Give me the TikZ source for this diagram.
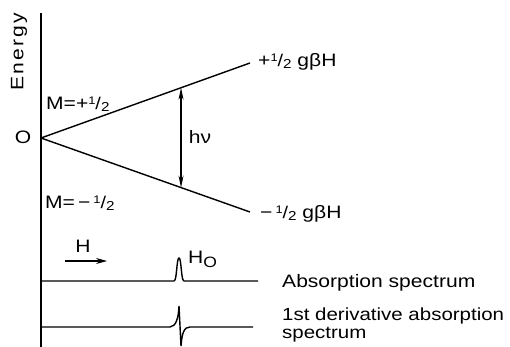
\documentclass[tikz,border=0pt]{standalone}
\usepackage{fontspec}
\setmainfont{Liberation Sans}[FakeStretch=1.17]
\usetikzlibrary{arrows.meta,calc}
\newcommand\myhalf{\raisebox{5pt}{\fontsize{11}{11}\selectfont 1}{\fontsize{17}{17}\selectfont/}\raisebox{-2pt}{\fontsize{13}{13}\selectfont 2}}
\begin{document}
\begin{tikzpicture}[x=1pt,y=-1pt,
  lbl/.style={inner sep=0pt,font=\fontsize{18}{18}\selectfont},
  ln/.style={line width=1.4pt},
  thin/.style={line width=1.1pt}]
\useasboundingbox (0,0) rectangle (510,347);
% axis
\coordinate (top) at (41,13);
\coordinate (bot) at (41,347);
\draw[thin] (top) -- (bot);
% levels
\coordinate (O) at (41,138);
\coordinate (U) at (250,63);
\coordinate (L) at (250,212);
\draw[ln] (O) -- (U);
\draw[ln] (O) -- (L);
\coordinate (a1) at ($(O)!0.67!(U)$);
\coordinate (a2) at ($(O)!0.67!(L)$);
\draw[thin,{Stealth[length=12pt,width=5pt]}-{Stealth[length=12pt,width=5pt]}] (a1) -- (a2);
% labels
\node[lbl,rotate=90,font=\fontsize{18}{18}\selectfont\addfontfeature{LetterSpace=12}] (energy) at (19,52) {Energy};
\node[lbl] (olab) at (23,137) {O};
\node[lbl,anchor=base west] (mplus) at (46,110) {M=+\myhalf};
\node[lbl,anchor=base west] (mminus) at (45,208) {M=\,−\,\myhalf};
\node[lbl] (hnu) at (200,137) {hν};
\node[lbl,anchor=base west] (eplus) at (258,67) {+\myhalf\ gβH};
\node[lbl,anchor=base west] (eminus) at (260,218) {−\,\myhalf\ gβH};
% field arrow
\coordinate (h1) at (65,261);
\coordinate (h2) at (107,261);
\draw[thin,-{Stealth[length=11pt,width=6pt]}] (h1) -- (h2);
\node[lbl] (hlab) at (83,246) {H};
% absorption spectrum
\coordinate (s0) at (41,281);
\coordinate (s1) at (174,281);
\coordinate (s2) at (184,281);
\coordinate (s3) at (258,281);
\draw[ln] (s0) -- (s1) .. controls (177,281) and (176.5,258) .. (179,258)
  .. controls (181.5,258) and (181,281) .. (s2) -- (s3);
\node[lbl,anchor=base west] (ho) at (188,263) {H{\fontsize{15}{15}\selectfont\raisebox{-4pt}{O}}};
\node[lbl,anchor=base west] (abs) at (282,287) {Absorption spectrum};
% derivative spectrum
\coordinate (d0) at (41,327);
\coordinate (d1) at (170,327);
\coordinate (d2) at (190,327);
\coordinate (d3) at (253,327);
\draw[ln] (d0) -- (d1) .. controls (176,326.5) and (178.5,318) .. (179,306)
  -- (181,346) .. controls (182,333) and (184,327) .. (d2) -- (d3);
\node[lbl,anchor=base west,font=\fontsize{17.5}{17.5}\selectfont] (der1) at (282,320) {1st derivative absorption};
\node[lbl,anchor=base west,font=\fontsize{17.5}{17.5}\selectfont] (der2) at (282,338) {spectrum};
\end{tikzpicture}
\end{document}
